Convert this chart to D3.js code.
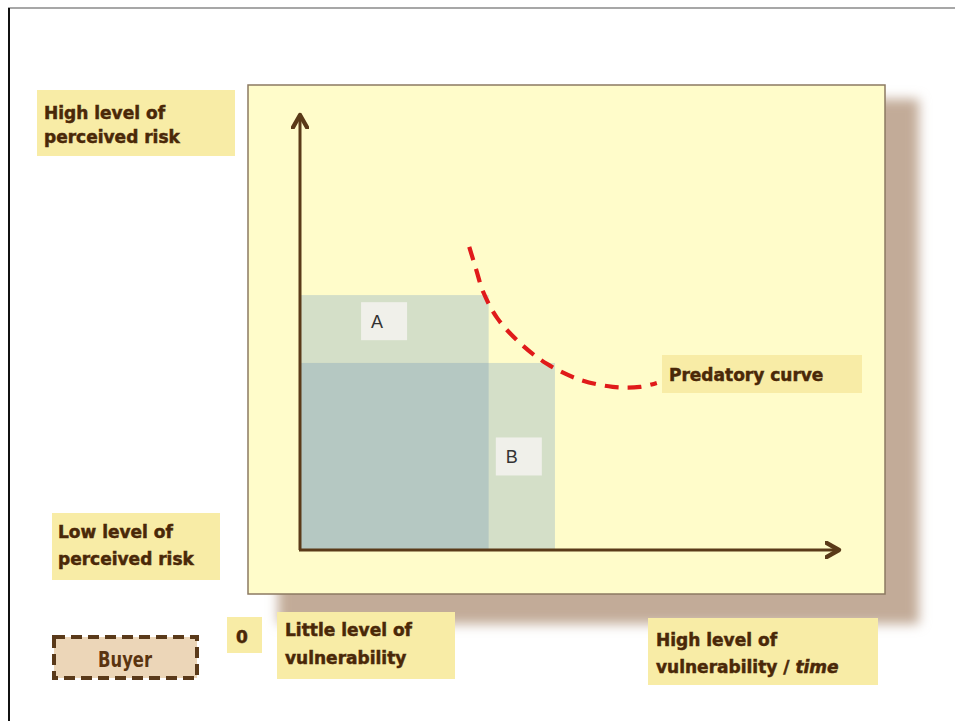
<!DOCTYPE html>
<html>
<head>
<meta charset="utf-8">
<script src="https://cdn.jsdelivr.net/npm/d3@7"></script>
<style>
  body { margin: 0; background: #fff; }
  svg { display: block; }
  .lbl { font-family: "DejaVu Sans", sans-serif; font-weight: bold; font-size: 17px;
         fill: #4a2808; stroke: #4a2808; stroke-width: 0.5px; }
</style>
</head>
<body>
<div id="chart"></div>
<script>
// axis domain (both axes run 0..100, arrows end at 100)
const xDomain = [0, 100];
const yDomain = [0, 100];

// shaded zones, measured from the origin
const zoneNames = ["A", "B"];
const zoneX1 = [35, 47.3];
const zoneY1 = [58.6, 43];
// where the small A / B tags sit (centre, axis units)
const tagX = [15.6, 40.6];
const tagY = [52.6, 21.5];

// predatory curve
const curveX = [31.4, 32.7, 34.0, 36.6, 40.8, 45.8, 51.6, 58.0, 63.1, 66.2];
const curveY = [69.7, 64.4, 59.3, 53.3, 47.6, 42.8, 39.3, 37.5, 37.5, 38.4];

// annotation labels
const labelLines = [
  ["High level of", "perceived risk"],
  ["Low level of", "perceived risk"],
  ["0"],
  ["Little level of", "vulnerability"],
  ["High level of", "vulnerability / |time"],
  ["Predatory curve"]
];

const W = 955, H = 725;
const svg = d3.select("#chart").append("svg").attr("width", W).attr("height", H);

const defs = svg.append("defs");
defs.append("filter").attr("id", "blur")
    .attr("x", "-10%").attr("y", "-10%").attr("width", "120%").attr("height", "120%")
  .append("feGaussianBlur").attr("stdDeviation", 6);
defs.append("marker").attr("id", "arrow")
    .attr("viewBox", "0 0 10 10").attr("refX", 8).attr("refY", 5)
    .attr("markerWidth", 6).attr("markerHeight", 6).attr("orient", "auto")
    .attr("markerUnits", "strokeWidth")
  .append("path").attr("d", "M1,1 L8,5 L1,9")
    .attr("fill", "none").attr("stroke", "#5a3a18").attr("stroke-width", 2.4)
    .attr("stroke-linecap", "round").attr("stroke-linejoin", "round");

// outer frame
svg.append("line").attr("x1", 8).attr("y1", 8).attr("x2", W).attr("y2", 8)
  .attr("stroke", "#8a8a8a").attr("stroke-width", 1.5);
svg.append("line").attr("x1", 9).attr("y1", 8).attr("x2", 9).attr("y2", 721)
  .attr("stroke", "#111").attr("stroke-width", 2);

// panel with shadow
const panel = { x: 248, y: 85, w: 637, h: 509 };
svg.append("rect")
  .attr("x", panel.x + 30).attr("y", panel.y + 14)
  .attr("width", panel.w + 4).attr("height", panel.h + 16)
  .attr("fill", "#c2ab98").attr("filter", "url(#blur)");
svg.append("rect")
  .attr("x", panel.x).attr("y", panel.y).attr("width", panel.w).attr("height", panel.h)
  .attr("fill", "#fffcca").attr("stroke", "#8c7a62").attr("stroke-width", 1.5);

const x = d3.scaleLinear().domain(xDomain).range([300, 839]);
const y = d3.scaleLinear().domain(yDomain).range([550, 115]);

// zones: union light, overlap darker
const zones = zoneNames.map((n, i) => ({ name: n, x1: zoneX1[i], y1: zoneY1[i] }));
svg.selectAll("rect.zone").data(zones).enter().append("rect")
  .attr("class", "zone")
  .attr("x", x(0)).attr("y", d => y(d.y1))
  .attr("width", d => x(d.x1) - x(0)).attr("height", d => y(0) - y(d.y1))
  .attr("fill", "#d4dfc8");
const ov = { x1: d3.min(zones, d => d.x1), y1: d3.min(zones, d => d.y1) };
svg.append("rect")
  .attr("x", x(0)).attr("y", y(ov.y1))
  .attr("width", x(ov.x1) - x(0)).attr("height", y(0) - y(ov.y1))
  .attr("fill", "#b5c8c2");

// A / B tags
zones.forEach((d, i) => {
  const cx = x(tagX[i]), cy = y(tagY[i]);
  svg.append("rect").attr("x", cx - 23).attr("y", cy - 19).attr("width", 46).attr("height", 38)
    .attr("fill", "#f0f0ea");
  svg.append("text").attr("x", cx - 7).attr("y", cy + 7).attr("text-anchor", "middle")
    .style("font-family", "'Liberation Sans', sans-serif").style("font-size", "18px")
    .style("fill", "#333").text(d.name);
});

// axes
svg.append("line").attr("x1", x(0)).attr("y1", y(0)).attr("x2", x(0)).attr("y2", y(100))
  .attr("stroke", "#5a3a18").attr("stroke-width", 3).attr("marker-end", "url(#arrow)");
svg.append("line").attr("x1", x(0) - 1).attr("y1", y(0)).attr("x2", x(100)).attr("y2", y(0))
  .attr("stroke", "#5a3a18").attr("stroke-width", 3).attr("marker-end", "url(#arrow)");

// predatory curve
const curve = curveX.map((v, i) => [v, curveY[i]]);
svg.append("path")
  .attr("d", d3.line().x(d => x(d[0])).y(d => y(d[1])).curve(d3.curveCatmullRom)(curve))
  .attr("fill", "none").attr("stroke", "#e01a1a").attr("stroke-width", 4.2)
  .attr("stroke-dasharray", "14,9");

// label boxes
const boxes = [
  { x: 37, y: 90, w: 198, h: 66, tx: 44, base: [119, 143] },
  { x: 52, y: 513, w: 168, h: 67, tx: 58, base: [538, 565] },
  { x: 227, y: 617, w: 35, h: 36, tx: 236, base: [643] },
  { x: 277, y: 612, w: 178, h: 67, tx: 285, base: [636, 664] },
  { x: 648, y: 618, w: 230, h: 67, tx: 656, base: [646, 673] },
  { x: 662, y: 355, w: 200, h: 38, tx: 669, base: [381] }
];
boxes.forEach((b, i) => {
  svg.append("rect").attr("x", b.x).attr("y", b.y).attr("width", b.w).attr("height", b.h)
    .attr("fill", "#f8eca6");
  labelLines[i].forEach((ln, j) => {
    const t = svg.append("text").attr("class", "lbl").attr("x", b.tx).attr("y", b.base[j]);
    const parts = ln.split("|");
    t.append("tspan").text(parts[0]);
    if (parts[1]) t.append("tspan").style("font-style", "italic").text(parts[1]);
  });
});

// buyer box
svg.append("rect").attr("x", 54).attr("y", 637).attr("width", 143).attr("height", 41)
  .attr("fill", "#ecd6b8").attr("stroke", "#5a3a1a").attr("stroke-width", 4)
  .attr("stroke-dasharray", "11,6");
svg.append("text").attr("x", 98).attr("y", 667)
  .attr("textLength", 54).attr("lengthAdjust", "spacingAndGlyphs")
  .style("font-family", "'Liberation Sans Narrow', 'DejaVu Sans Condensed', sans-serif")
  .style("font-weight", "bold").style("font-size", "21px").style("fill", "#5a3410")
  .text("Buyer");
</script>
</body>
</html>
